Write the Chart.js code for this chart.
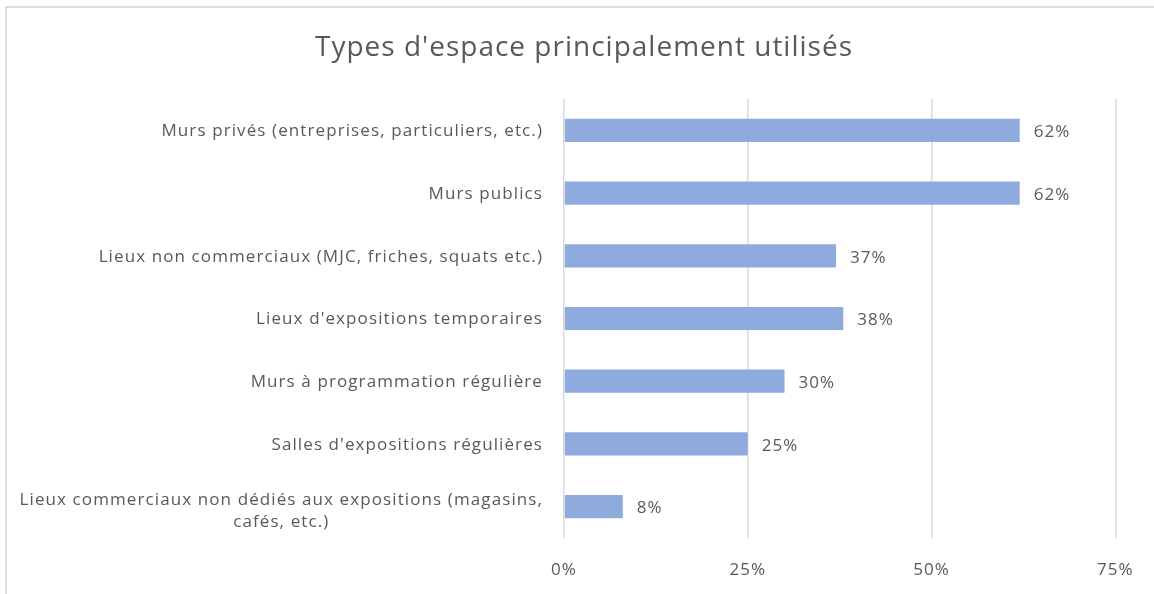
<!DOCTYPE html>
<html lang="fr">
<head>
<meta charset="utf-8">
<title>Types d'espace principalement utilisés</title>
<script src="https://cdn.jsdelivr.net/npm/chart.js@4.4.1/dist/chart.umd.min.js"></script>
<style>
    html, body { margin: 0; padding: 0; background: #fff; overflow: hidden; }
    #wrap { position: relative; width: 1154px; height: 594px; overflow: hidden; }
    .edge { position: absolute; background: #dcdcdc; pointer-events: none; }
    #edgeTop { left: 5px; top: 6px; width: 1149px; height: 2px; }
    #edgeLeft { left: 5px; top: 6px; width: 2px; height: 588px; }
    canvas { position: absolute; left: 0; top: 0; }
</style>
</head>
<body>
<div id="wrap">
    <canvas id="spacesChart" width="1154" height="594"></canvas>
    <div class="edge" id="edgeTop"></div>
    <div class="edge" id="edgeLeft"></div>
</div>
<script>
// Chart data
const chartTitle = "Types d'espace principalement utilisés";
const categories = [
    ['Murs privés (entreprises, particuliers, etc.)'],
    ['Murs publics'],
    ['Lieux non commerciaux (MJC, friches, squats etc.)'],
    ["Lieux d'expositions temporaires"],
    ['Murs à programmation régulière'],
    ["Salles d'expositions régulières"],
    ['Lieux commerciaux non dédiés aux expositions (magasins,', 'cafés, etc.)']
];
const percentages = [62, 62, 37, 38, 30, 25, 8];
const axisTicks = [0, 25, 50, 75];

const textColor = '#595959';
const fontFamily = '"Open Sans", "DejaVu Sans", sans-serif';

// Wider letter spacing for every text drawn on the canvas
const spacing = {
    id: 'spacing',
    beforeDraw(chart) {
        chart.ctx.letterSpacing = '1px';
    }
};

// Title drawn by hand so it can sit slightly right of the canvas centre
const titleText = {
    id: 'titleText',
    afterDraw(chart) {
        const ctx = chart.ctx;
        ctx.save();
        ctx.letterSpacing = '1px';
        ctx.font = '28px ' + fontFamily;
        ctx.fillStyle = textColor;
        ctx.textAlign = 'center';
        ctx.textBaseline = 'middle';
        ctx.fillText(chartTitle, 584, 48);
        ctx.restore();
    }
};

// Category labels: each block right-aligned to the axis, lines centred inside it
const categoryLabels = {
    id: 'categoryLabels',
    afterDraw(chart) {
        const ctx = chart.ctx;
        const y = chart.scales.y;
        const right = chart.chartArea.left - 21;
        const lineHeight = 22;
        ctx.save();
        ctx.letterSpacing = '1.1px';
        ctx.font = '17px ' + fontFamily;
        ctx.fillStyle = textColor;
        ctx.textAlign = 'center';
        ctx.textBaseline = 'middle';
        chart.data.labels.forEach((lines, i) => {
            const maxW = Math.max(...lines.map(l => ctx.measureText(l).width));
            const cx = right - maxW / 2;
            const cy = y.getPixelForValue(i) + 1;
            const top = cy - (lines.length - 1) * lineHeight / 2 + (lines.length - 1) * 4;
            lines.forEach((line, k) => ctx.fillText(line, cx, top + k * lineHeight));
        });
        ctx.restore();
    }
};

// Value labels at the end of each bar
const valueLabels = {
    id: 'valueLabels',
    afterDatasetsDraw(chart) {
        const ctx = chart.ctx;
        const meta = chart.getDatasetMeta(0);
        ctx.save();
        ctx.letterSpacing = '1px';
        ctx.font = '17px ' + fontFamily;
        ctx.fillStyle = textColor;
        ctx.textAlign = 'left';
        ctx.textBaseline = 'middle';
        meta.data.forEach((bar, i) => {
            ctx.fillText(chart.data.datasets[0].data[i] + '%', bar.x + 14, bar.y + 2);
        });
        ctx.restore();
    }
};

const ctx = document.getElementById('spacesChart').getContext('2d');
new Chart(ctx, {
    type: 'bar',
    data: {
        labels: categories,
        datasets: [{
            data: percentages,
            backgroundColor: '#8FAADC',
            borderWidth: 0,
            categoryPercentage: 1,
            barPercentage: 0.37
        }]
    },
    options: {
        indexAxis: 'y',
        responsive: false,
        animation: false,
        layout: { padding: { left: 0, right: 37, top: 99, bottom: 0 } },
        plugins: {
            legend: { display: false },
            tooltip: { enabled: false },
            title: { display: false }
        },
        scales: {
            x: {
                min: 0,
                max: 75,
                afterBuildTicks(scale) {
                    scale.ticks = axisTicks.map(v => ({ value: v }));
                },
                afterFit(scale) { scale.height = 56; },
                grid: { color: '#d9d9d9', lineWidth: 1.5, drawTicks: false },
                border: { display: false },
                ticks: {
                    padding: 22,
                    color: textColor,
                    font: { family: fontFamily, size: 17 },
                    callback: v => v + '%'
                }
            },
            y: {
                afterFit(scale) { scale.width = 564; },
                grid: { display: false },
                border: { display: false },
                ticks: { display: false }
            }
        }
    },
    plugins: [spacing, titleText, categoryLabels, valueLabels]
});
</script>
</body>
</html>
